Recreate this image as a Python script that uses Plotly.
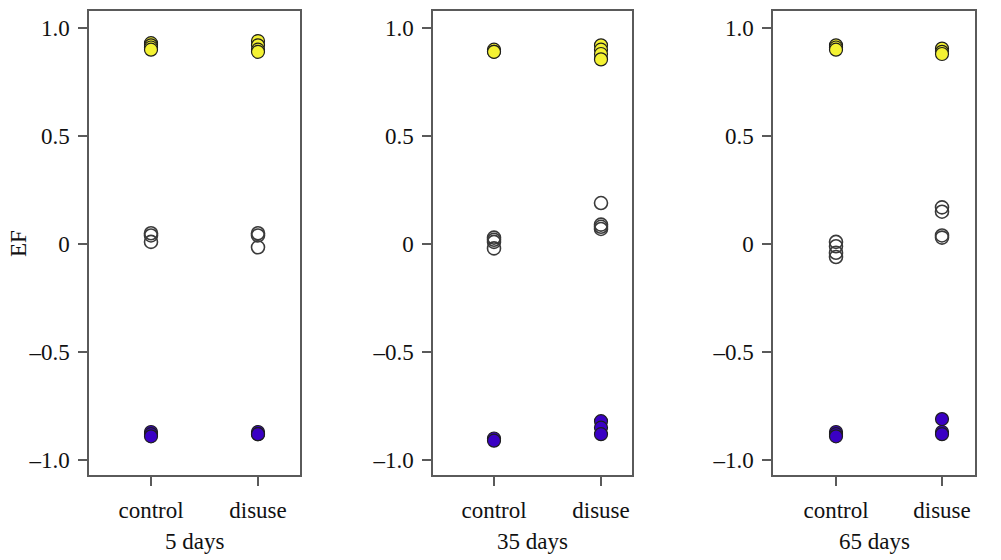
import plotly.graph_objects as go

# Panels (time points) and groups
panels = ["5 days", "35 days", "65 days"]
groups = ["control", "disuse"]

# EF values per panel: [5 days, 35 days, 65 days]
high_control = [[0.93, 0.92, 0.91, 0.90], [0.90, 0.89, 0.89], [0.92, 0.91, 0.90]]
high_disuse = [[0.94, 0.92, 0.90, 0.89], [0.92, 0.90, 0.88, 0.855], [0.905, 0.89, 0.88]]
mid_control = [[0.05, 0.04, 0.01], [0.03, 0.02, 0.01, -0.02], [0.01, -0.01, -0.04, -0.06]]
mid_disuse = [[0.05, 0.04, -0.015], [0.19, 0.09, 0.08, 0.07], [0.17, 0.15, 0.04, 0.03]]
low_control = [[-0.87, -0.88, -0.89], [-0.90, -0.91], [-0.87, -0.88, -0.89]]
low_disuse = [[-0.87, -0.88, -0.88], [-0.82, -0.85, -0.88], [-0.81, -0.87, -0.88]]

y_ticks = [1.0, 0.5, 0.0, -0.5, -1.0]
y_ticktext = ["1.0", "0.5", "0", "\u20130.5", "\u20131.0"]

W, H = 1001, 560
# panel frames in pixels: (left, right)
frames = [(89, 300), (433, 632), (773, 975)]
# pixel positions of the two category ticks in each panel
cat_px = [(151, 258), (494, 601), (836, 942)]
top_px, bottom_px = 11, 475

YELLOW = "#f4f233"
PURPLE = "#3a00c4"
EDGE = "#1e1e1e"
FONT = "Liberation Serif"
FS = 23

fig = go.Figure()

for i, name in enumerate(panels):
    xa = "x" if i == 0 else f"x{i + 1}"
    ya = "y" if i == 0 else f"y{i + 1}"
    series = [
        (high_control[i], high_disuse[i], dict(symbol="circle", color=YELLOW, line=dict(color=EDGE, width=1.2))),
        (mid_control[i], mid_disuse[i], dict(symbol="circle-open", color="#3a3a3a", line=dict(width=1.6))),
        (low_control[i], low_disuse[i], dict(symbol="circle", color=PURPLE, line=dict(color=EDGE, width=1.2))),
    ]
    for ctrl, dis, mk in series:
        xs = [1] * len(ctrl) + [2] * len(dis)
        ys = list(ctrl) + list(dis)
        fig.add_trace(go.Scatter(
            x=xs, y=ys, mode="markers", xaxis=xa, yaxis=ya,
            marker=dict(size=13, **mk), showlegend=False, hoverinfo="skip",
        ))

    L, R = frames[i]
    c, d = cat_px[i]
    unit = d - c
    x_range = [1 - (c - L) / unit, 2 + (R - d) / unit]
    x0, x1 = L / W, R / W
    axis_common = dict(
        showline=True, mirror=True, linecolor="#5a5a5a", linewidth=1.5,
        ticks="outside", ticklen=9, tickwidth=1.5, tickcolor="#5a5a5a",
        showgrid=False, zeroline=False,
        tickfont=dict(family=FONT, size=FS, color="#111"),
    )
    fig.layout[("xaxis" if i == 0 else f"xaxis{i + 1}")] = dict(
        domain=[x0, x1], anchor=ya, range=x_range,
        tickvals=[1, 2], ticktext=groups, ticklabelstandoff=5, **axis_common,
    )
    fig.layout[("yaxis" if i == 0 else f"yaxis{i + 1}")] = dict(
        domain=[1 - bottom_px / H, 1 - top_px / H], anchor=xa,
        range=[-1.069, 1.079], tickvals=y_ticks, ticktext=y_ticktext,
        ticklabelstandoff=4, **axis_common,
    )
    fig.add_annotation(
        text=name, x=(x0 + x1) / 2, y=1 - 541 / H, xref="paper", yref="paper",
        showarrow=False, font=dict(family=FONT, size=FS, color="#111"),
        xanchor="center", yanchor="middle",
    )

fig.add_annotation(
    text="EF", x=18 / W, y=1 - 244 / H, xref="paper", yref="paper",
    showarrow=False, textangle=-90, font=dict(family=FONT, size=FS, color="#111"),
    xanchor="center", yanchor="middle",
)

fig.update_layout(
    width=W, height=H, margin=dict(l=0, r=0, t=0, b=0),
    paper_bgcolor="white", plot_bgcolor="white",
)

fig.write_html("out.html")
